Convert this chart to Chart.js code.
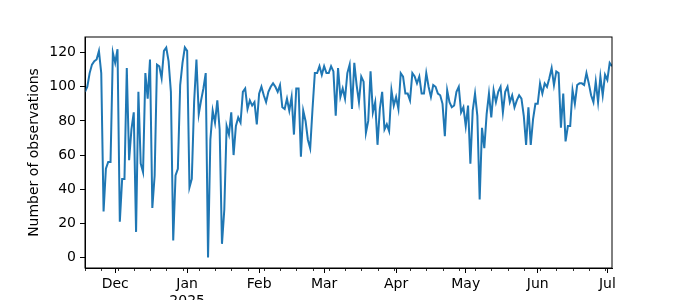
<!DOCTYPE html>
<html>
<head>
<meta charset="utf-8">
<script src="https://cdn.jsdelivr.net/npm/chart.js@4.4.1/dist/chart.umd.min.js"></script>
<style>
  html, body { margin: 0; padding: 0; background: #fff; }
  #chart { display: block; }
</style>
</head>
<body>
<canvas id="chart" width="680" height="300"></canvas>
<script>
// daily counts, first day is a Monday
const startDate = '2024-11-18';
const counts = [
  97, 100, 108, 113, 115, 116, 121, 108, 27, 52,
  56, 56, 120, 114, 122, 21, 46, 46, 111, 57,
  75, 85, 15, 97, 55, 50, 108, 93, 116, 29,
  48, 113, 112, 105, 121, 123, 115, 97, 10, 48,
  52, 101, 114, 123, 121, 41, 46, 91, 116, 84,
  92, 99, 108, 0, 69, 86, 79, 92, 75, 8,
  28, 77, 72, 85, 60, 77, 82, 79, 97, 99,
  87, 92, 89, 91, 78, 96, 100, 95, 91, 97,
  100, 102, 100, 97, 101, 88, 87, 93, 86, 94,
  72, 99, 99, 59, 86, 80, 69, 64, 87, 108,
  108, 112, 107, 112, 108, 108, 112, 109, 83, 111,
  94, 99, 93, 108, 113, 87, 114, 101, 91, 106,
  103, 73, 80, 109, 85, 91, 66, 87, 97, 75,
  78, 74, 98, 89, 94, 87, 108, 106, 96, 96,
  92, 108, 106, 102, 106, 96, 96, 108, 100, 94,
  101, 100, 96, 95, 90, 71, 98, 91, 88, 89,
  97, 100, 85, 88, 77, 89, 55, 86, 96, 83,
  34, 76, 64, 84, 96, 82, 98, 91, 97, 100,
  85, 97, 100, 91, 95, 88, 92, 95, 93, 83,
  66, 88, 66, 81, 90, 90, 102, 96, 102, 100,
  105, 111, 101, 109, 108, 76, 96, 68, 77, 77,
  98, 90, 101, 102, 102, 101, 108, 102, 95, 91,
  103, 91, 106, 95, 107, 104, 114, 112
];

// x axis: month ticks
const monthStarts = ['2024-12-01', '2025-01-01', '2025-02-01', '2025-03-01',
                     '2025-04-01', '2025-05-01', '2025-06-01', '2025-07-01'];
const monthLabels = ['Dec', ['Jan', '2025'], 'Feb', 'Mar', 'Apr', 'May', 'Jun', 'Jul'];
const yTicks = [0, 20, 40, 60, 80, 100, 120];

const dayMs = 86400000;
const dayOffset = d => Math.round((Date.parse(d) - Date.parse(startDate)) / dayMs);
const monthPos = monthStarts.map(dayOffset);
const lastDay = counts.length - 1;
const points = counts.map((v, i) => ({ x: i, y: v }));

// matplotlib-like 5% margins on y
const lo = Math.min(...counts);
const hi = Math.max(...counts);
const pad = (hi - lo) * 0.05;

const font = { family: 'DejaVu Sans', size: 14 };

// weekly minor ticks (Mondays)
const minorTicks = {
  id: 'minorTicks',
  afterDraw(chart) {
    const { ctx, chartArea, scales: { x } } = chart;
    ctx.save();
    ctx.strokeStyle = '#000';
    ctx.lineWidth = 0.8;
    for (let d = 0; d <= lastDay; d += 7) {
      const px = Math.round(x.getPixelForValue(d)) + 0.5;
      ctx.beginPath();
      ctx.moveTo(px, chartArea.bottom);
      ctx.lineTo(px, chartArea.bottom + 3);
      ctx.stroke();
    }
    ctx.restore();
  }
};

// box around the plot
const frame = {
  id: 'frame',
  afterDraw(chart) {
    const { ctx, chartArea: a } = chart;
    ctx.save();
    ctx.strokeStyle = '#000';
    ctx.lineWidth = 1;
    ctx.strokeRect(a.left, a.top, a.right - a.left, a.bottom - a.top);
    ctx.restore();
  }
};

new Chart(document.getElementById('chart').getContext('2d'), {
  type: 'line',
  data: {
    datasets: [{
      data: points,
      borderColor: '#1f77b4',
      borderWidth: 2,
      pointRadius: 0,
      tension: 0,
      fill: false
    }]
  },
  options: {
    responsive: false,
    animation: false,
    layout: { padding: { top: 37, right: 68, left: 0, bottom: 0 } },
    plugins: {
      legend: { display: false },
      tooltip: { enabled: false }
    },
    scales: {
      x: {
        type: 'linear',
        min: 0,
        max: lastDay,
        afterBuildTicks: s => { s.ticks = monthPos.map(v => ({ value: v })); },
        ticks: {
          autoSkip: false,
          maxRotation: 0,
          padding: 3,
          color: '#000',
          font: font,
          callback: (v, i) => monthLabels[i]
        },
        grid: { drawOnChartArea: false, tickLength: 5, tickColor: '#000', tickWidth: 1 },
        border: { color: '#000', width: 1 },
        afterFit: s => { s.height = 32; }
      },
      y: {
        min: lo - pad,
        max: hi + pad,
        afterBuildTicks: s => { s.ticks = yTicks.map(v => ({ value: v })); },
        ticks: { color: '#000', font: font, padding: 4 },
        grid: { drawOnChartArea: false, tickLength: 5, tickColor: '#000', tickWidth: 1 },
        border: { color: '#000', width: 1 },
        title: {
          display: true,
          text: 'Number of observations',
          color: '#000',
          font: font,
          padding: { top: 26, bottom: 0 }
        },
        afterFit: s => { s.width = 85; }
      }
    }
  },
  plugins: [minorTicks, frame]
});
</script>
</body>
</html>
